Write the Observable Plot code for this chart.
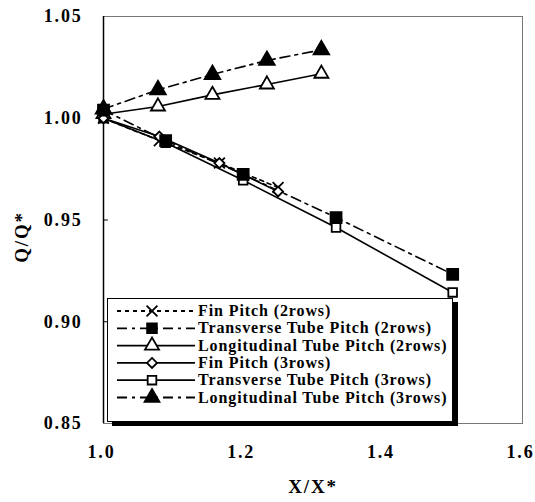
<!DOCTYPE html>
<html>
<head>
<meta charset="utf-8">
<script src="https://cdn.jsdelivr.net/npm/d3@7"></script>
<script src="https://cdn.jsdelivr.net/npm/@observablehq/plot@0.6"></script>
<style>
  html, body { margin: 0; padding: 0; background: #fff; }
  #wrap { position: relative; width: 535px; height: 502px; }
  #legend { position: absolute; left: 107px; top: 298px; }
</style>
</head>
<body>
<div id="wrap"></div>
<script>
// ---- data ----
const finX = [1.0, 1.08, 1.166, 1.25];
const finPitch2 = [1.0, 0.989, 0.978, 0.966];
const finPitch3 = [1.0, 0.991, 0.978, 0.964];
const transX = [1.0, 1.089, 1.2, 1.333, 1.5];
const transPitch2 = [1.004, 0.989, 0.9724, 0.9512, 0.9233];
const transPitch3 = [1.0, 0.988, 0.9695, 0.9463, 0.9144];
const longX = [1.0, 1.078, 1.156, 1.234, 1.312];
const longPitch2 = [1.002, 1.0058, 1.0115, 1.0166, 1.0219];
const longPitch3 = [1.0045, 1.014, 1.0215, 1.0284, 1.0336];
const xTicks = [1.0, 1.2, 1.4, 1.6];
const yTicks = [0.85, 0.90, 0.95, 1.00, 1.05];
const xTitle = "X/X*";
const yTitle = "Q/Q*";
const seriesNames = [
  "Fin Pitch (2rows)",
  "Transverse Tube Pitch (2rows)",
  "Longitudinal Tube Pitch (2rows)",
  "Fin Pitch (3rows)",
  "Transverse Tube Pitch (3rows)",
  "Longitudinal Tube Pitch (3rows)"
];

const toRows = (xs, ys) => xs.map((x, i) => ({x, y: ys[i]}));

const series = [
  {name: seriesNames[0], data: toRows(finX, finPitch2), dash: "4,4", symbol: "times", fill: "none", r: 5, z: 1},
  {name: seriesNames[1], data: toRows(transX, transPitch2), dash: "10,5,3,5", symbol: "square", fill: "black", r: 6.2, z: 5},
  {name: seriesNames[2], data: toRows(longX, longPitch2), dash: null, symbol: "triangle", fill: "white", r: 5.2, z: 2},
  {name: seriesNames[3], data: toRows(finX, finPitch3), dash: null, symbol: "diamond2", fill: "white", r: 4.5, z: 3},
  {name: seriesNames[4], data: toRows(transX, transPitch3), dash: null, symbol: "square2", fill: "white", r: 5.5, z: 0},
  {name: seriesNames[5], data: toRows(longX, longPitch3), dash: "10,5,3,5", symbol: "triangle", fill: "black", r: 5.8, z: 1}
];

const labelFont = {fontFamily: "'Liberation Serif', serif", fontSize: 19, fontWeight: "bold"};

const marks = [
  Plot.frame({stroke: "#777", strokeWidth: 1}),
  Plot.ruleX([xTicks[0]], {stroke: "black", strokeWidth: 1.5}),
  Plot.ruleY(yTicks.slice(1, -1), {x1: xTicks[0], x2: 1.007, stroke: "black", strokeWidth: 1}),
  Plot.axisX(xTicks, {tickSize: 0, tickPadding: 22, dx: -2, tickFormat: d3.format(".1f"), label: null}),
  Plot.axisY(yTicks, {tickSize: 0, tickPadding: 21, tickFormat: d3.format(".2f"), label: null}),
  Plot.text([xTitle], {frameAnchor: "bottom", text: d => d, textAnchor: "middle", dy: 69, ...labelFont}),
  Plot.text([yTitle], {frameAnchor: "left", text: d => d, textAnchor: "middle", rotate: -90, dx: -82, dy: 17, ...labelFont})
];
for (const s of series) {
  marks.push(Plot.line(s.data, {x: "x", y: "y", stroke: "black", strokeWidth: 1.6, strokeDasharray: s.dash}));
}
for (const s of [...series].sort((a, b) => a.z - b.z)) {
  marks.push(Plot.dot(s.data, {x: "x", y: "y", symbol: () => s.symbol, r: s.r, stroke: "black", strokeWidth: 1.8, fill: s.fill}));
}

const chart = Plot.plot({
  width: 535,
  height: 502,
  marginLeft: 103,
  marginTop: 16,
  marginRight: 13,
  marginBottom: 79,
  x: {domain: [1.0, 1.6]},
  y: {domain: [0.85, 1.05]},
  style: {fontFamily: "'Liberation Serif', serif", fontSize: "18px", fontWeight: "bold", letterSpacing: "1.8px", color: "black", background: "white"},
  marks
});
document.getElementById("wrap").appendChild(chart);

// ---- legend (overlay inside plot area) ----
const lw = 346, lh = 124;
const legend = d3.select("#wrap").append("svg")
  .attr("id", "legend")
  .attr("width", lw + 6).attr("height", lh + 5);
legend.append("rect").attr("x", 5).attr("y", 4).attr("width", lw).attr("height", lh).attr("fill", "black");
legend.append("rect").attr("x", 0.5).attr("y", 0.5).attr("width", lw - 1).attr("height", lh - 1)
  .attr("fill", "white").attr("stroke", "black").attr("stroke-width", 1);
const symMap = {times: d3.symbolTimes, square: d3.symbolSquare, triangle: d3.symbolTriangle, diamond2: d3.symbolDiamond2, square2: d3.symbolSquare2};
series.forEach((s, i) => {
  const cy = 13 + i * 17.3;
  const g = legend.append("g");
  g.append("line").attr("x1", 10).attr("x2", 88).attr("y1", cy).attr("y2", cy)
    .attr("stroke", "black").attr("stroke-width", 1.8).attr("stroke-dasharray", s.dash);
  g.append("path").attr("transform", `translate(45,${cy})`)
    .attr("d", d3.symbol(symMap[s.symbol], Math.PI * Math.min(s.r, 5.5) ** 2)())
    .attr("fill", s.fill).attr("stroke", "black").attr("stroke-width", 1.8);
  g.append("text").attr("x", 91).attr("y", cy + 5)
    .attr("font-family", "'Liberation Serif', serif").attr("font-weight", "bold")
    .attr("font-size", 16).attr("letter-spacing", "0.9px")
    .text(s.name);
});
</script>
</body>
</html>
